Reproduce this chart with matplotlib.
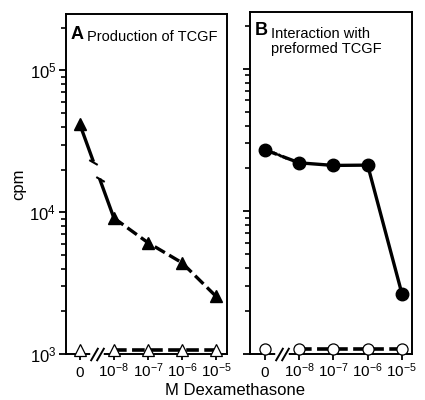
import numpy as np
import matplotlib
matplotlib.use("Agg")
import matplotlib.pyplot as plt
from matplotlib.ticker import LogLocator, NullFormatter, FixedLocator

plt.rcParams['font.family'] = ['Liberation Sans', 'DejaVu Sans']
plt.rcParams['mathtext.fontset'] = 'custom'
plt.rcParams['mathtext.rm'] = 'Liberation Sans'
plt.rcParams['mathtext.it'] = 'Liberation Sans:italic'
plt.rcParams['mathtext.bf'] = 'Liberation Sans:bold'

categories = ["0", "10$^{-8}$", "10$^{-7}$", "10$^{-6}$", "10$^{-5}$"]
a_filled = [41700, 9100, 6100, 4400, 2550]      # filled triangles, panel A
a_open = [1060, 1060, 1060, 1060, 1060]         # open triangles, panel A
b_filled = [27000, 21900, 21000, 21100, 2650]   # filled circles, panel B
b_open = [1090, 1090, 1090, 1090, 1090]         # open circles, panel B

x = np.arange(len(categories))

fig = plt.figure(figsize=(4.25, 4.0), dpi=100)
axA = fig.add_axes([0.155, 0.115, 0.379, 0.850])
axB = fig.add_axes([0.588, 0.115, 0.381, 0.855])


def broken_segment(ax, x0, y0, x1, y1, ls, lw, t0=0.40, t1=0.58):
    ly0, ly1 = np.log10(y0), np.log10(y1)
    def pt(t):
        return x0 + (x1 - x0) * t, 10 ** (ly0 + (ly1 - ly0) * t)
    xb, yb = pt(t0)
    xc, yc = pt(t1)
    ax.plot([x0, xb], [y0, yb], color='black', lw=lw, ls=ls, solid_capstyle='butt')
    ax.plot([xc, x1], [yc, y1], color='black', lw=lw, ls=ls, solid_capstyle='butt')
    for (bx, by) in [(xb, yb), (xc, yc)]:
        ax.plot([bx], [by], marker=(2, 0, 60), ms=7, mew=1.5, color='black')


def style_axis(ax, show_ylabels):
    ax.set_yscale('log')
    ax.set_ylim(1000, 2.5e5)
    ax.yaxis.set_major_locator(FixedLocator([1e3, 1e4, 1e5]))
    ax.yaxis.set_minor_locator(LogLocator(base=10, subs=np.arange(2, 10)))
    ax.yaxis.set_minor_formatter(NullFormatter())
    if show_ylabels:
        ax.set_yticklabels(["10$^3$", "10$^4$", "10$^5$"], fontsize=12)
    else:
        ax.set_yticklabels([])
    ax.set_xticks(x)
    ax.set_xticklabels(categories, fontsize=11)
    for lbl in ax.get_xticklabels():
        lbl.set_va('baseline')
    ax.tick_params(axis='x', which='major', direction='out', length=4, width=1.3, pad=12.5)
    ax.tick_params(axis='y', which='major', direction='out', length=5, width=1.3, pad=2)
    ax.tick_params(axis='y', which='minor', direction='out', length=3.5, width=1.2)
    for s in ax.spines.values():
        s.set_linewidth(1.4)
    # x-axis break marks
    bx = 0.5
    ax.plot([bx - 0.12, bx + 0.12], [1000, 1000], color='white', lw=4,
            clip_on=False, zorder=5)
    for dx in (-0.09, 0.09):
        ax.plot([bx + dx], [1000], marker=(2, 0, -30), ms=11, mew=1.4,
                color='black', clip_on=False, zorder=6)


# Panel A
style_axis(axA, True)
axA.set_xlim(-0.41, 4.32)
broken_segment(axA, x[0], a_filled[0], x[1], a_filled[1], '-', 2.4)
axA.plot(x[1:], a_filled[1:], color='black', lw=2.4, ls=(0, (3.5, 1.5)))
axA.plot(x, a_filled, ls='none', marker='^', ms=8, color='black', zorder=4)
axA.plot(x[1:], a_open[1:], color='black', lw=2.6, ls=(0, (3.5, 1.5)), clip_on=False, zorder=3)
axA.plot(x, a_open, ls='none', marker='^', ms=8, mfc='white', mec='black', mew=0.9,
         clip_on=False, zorder=7)
axA.text(0.03, 0.965, "A", transform=axA.transAxes, fontsize=13, fontweight='bold',
         va='top', ha='left')
axA.text(0.13, 0.952, "Production of TCGF", transform=axA.transAxes, fontsize=10.5,
         va='top', ha='left')
axA.set_ylabel("cpm", fontsize=12, labelpad=2)

# Panel B
style_axis(axB, False)
axB.set_xlim(-0.44, 4.29)
broken_segment(axB, x[0], b_filled[0], x[1], b_filled[1], '-', 2.4, t0=0.35, t1=0.5)
axB.plot(x[1:], b_filled[1:], color='black', lw=2.4)
axB.plot(x, b_filled, ls='none', marker='o', ms=9, color='black', zorder=4)
axB.plot(x[1:], b_open[1:], color='black', lw=2.6, ls=(0, (3.5, 1.5)), clip_on=False, zorder=3)
axB.plot(x, b_open, ls='none', marker='o', ms=8, mfc='white', mec='black', mew=0.9,
         clip_on=False, zorder=7)
axB.text(0.03, 0.97, "B", transform=axB.transAxes, fontsize=13, fontweight='bold',
         va='top', ha='left')
axB.text(0.13, 0.955, "Interaction with\npreformed TCGF", transform=axB.transAxes,
         fontsize=10.5, va='top', ha='left', linespacing=1.1)

fig.text(0.553, 0.012, "M Dexamethasone", ha='center', va='baseline', fontsize=12)

fig.savefig("out.png", dpi=100)
